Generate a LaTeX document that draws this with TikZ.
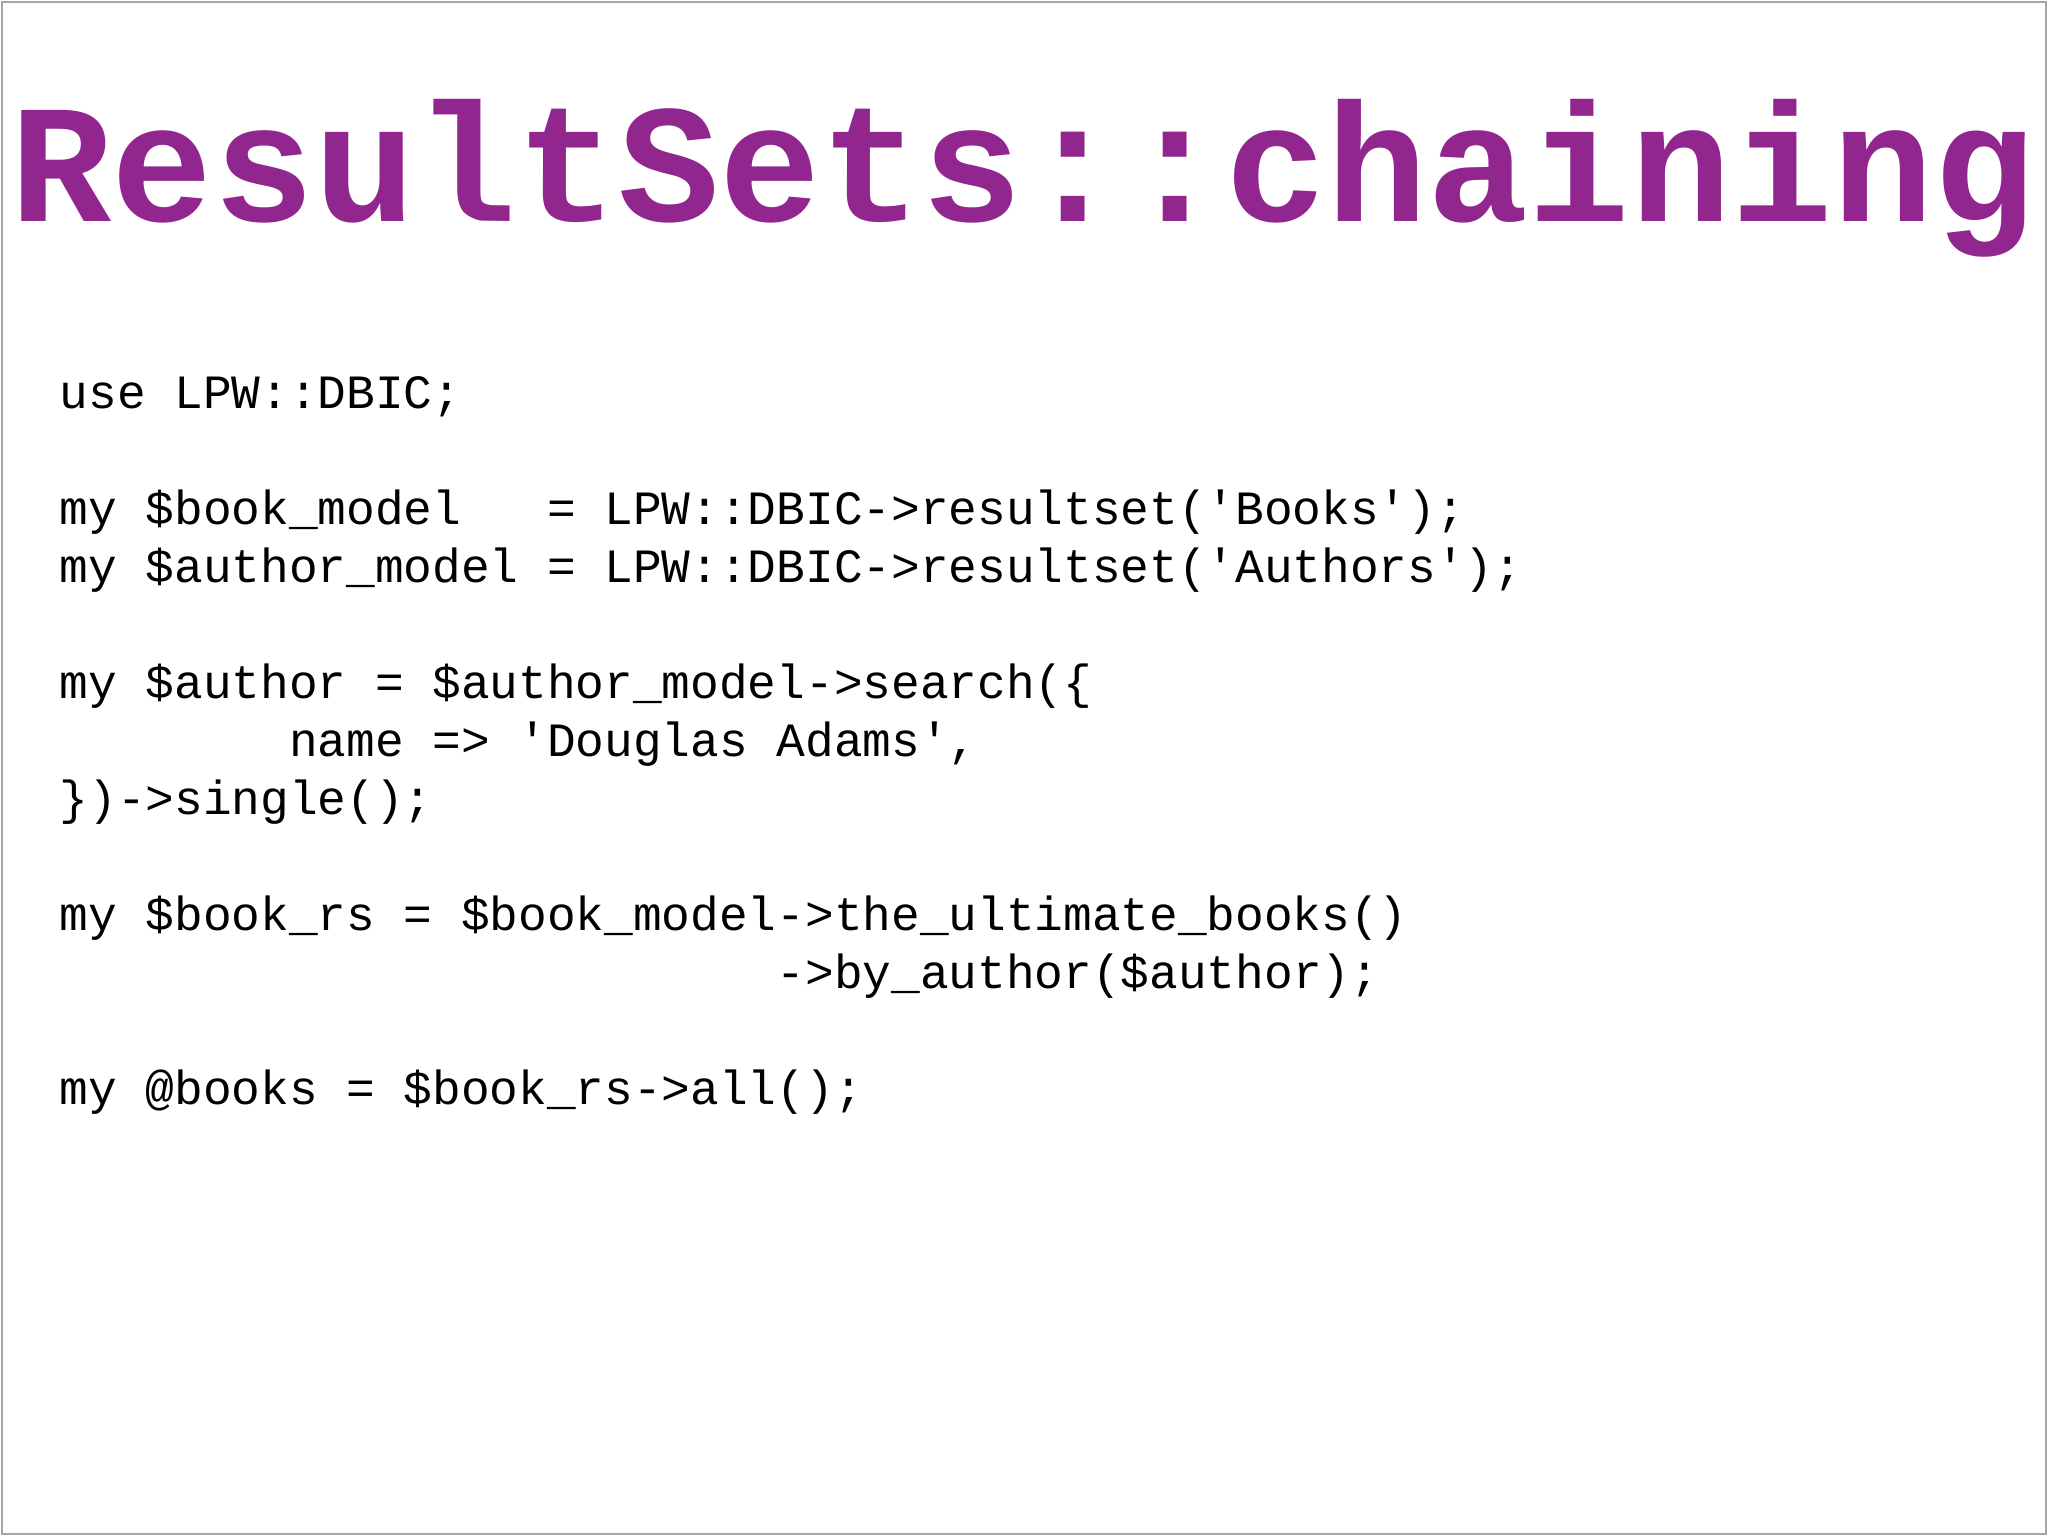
\documentclass[tikz,border=0pt]{standalone}
\usepackage{fontspec}
\setmonofont{Liberation Mono}
\definecolor{ttl}{RGB}{145,38,143}
\newcommand{\codefont}{\fontsize{13.6pt}{16pt}\ttfamily}
\tikzset{codeline/.style={anchor=base west,inner sep=0pt,font=\codefont}}
\begin{document}
\begin{tikzpicture}
\fill[white] (0,0) rectangle (20.48,15.36);
\draw[gray!70,line width=0.8pt] (0.02,0.02) rectangle (20.46,15.34);
\node[anchor=base west,inner sep=0pt,text=ttl,font=\fontsize{48pt}{50pt}\ttfamily\bfseries] (title) at (0.1,13.14) {ResultSets::chaining};
\foreach \i/\t in {1/{use LPW::DBIC;},
 3/{my \$book\_model~~~= LPW::DBIC->resultset('Books');},
 4/{my \$author\_model = LPW::DBIC->resultset('Authors');},
 6/{my \$author = \$author\_model->search(\{},
 7/{~~~~~~~~name => 'Douglas Adams',},
 8/{\})->single();},
 10/{my \$book\_rs = \$book\_model->the\_ultimate\_books()},
 11/{~~~~~~~~~~~~~~~~~~~~~~~~~->by\_author(\$author);},
 13/{my @books = \$book\_rs->all();}}{
 \node[codeline] (l\i) at (0.59,{11.27-(\i-1)*0.58}) {\t};
}
\end{tikzpicture}
\end{document}
